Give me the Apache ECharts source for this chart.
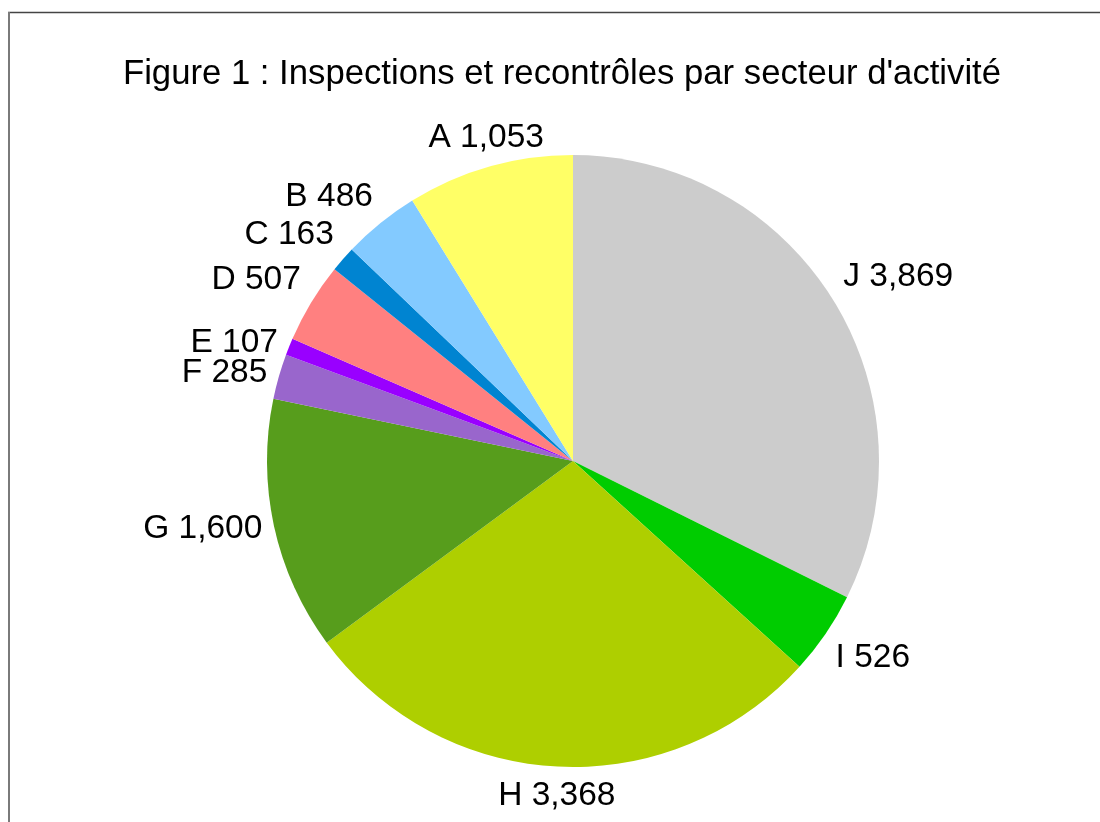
<!DOCTYPE html>
<html lang="fr">
<head>
    <meta charset="utf-8">
    <title>Figure 1</title>
    <script type="text/javascript" src="https://cdn.jsdelivr.net/npm/echarts@6/dist/echarts.min.js"></script>
    <style>
        body { margin: 0; background: #fff; }
        #chartMain { width: 1100px; height: 822px; }
    </style>
</head>
<body>
    <div id="chartMain"></div>
    <script type="text/javascript">
        // secteurs, dans l'ordre du tracé (sens horaire depuis midi)
        var secteurs = ['J', 'I', 'H', 'G', 'F', 'E', 'D', 'C', 'B', 'A'];
        var valeurs = [3869, 526, 3368, 1600, 285, 107, 507, 163, 486, 1053];
        var couleurs = ['#cccccc', '#00cc00', '#aecf00', '#579d1c', '#9966cc',
                        '#9900ff', '#ff8080', '#0084d1', '#83caff', '#ffff66'];

        var data = [];
        for (var i = 0; i < secteurs.length; i++) {
            data.push({ name: secteurs[i], value: valeurs[i], itemStyle: { color: couleurs[i] } });
        }

        var chart = echarts.init(document.getElementById('chartMain'));
        chart.setOption({
            animation: false,
            textStyle: { fontFamily: 'Liberation Sans' },
            title: {
                text: "Figure 1 : Inspections et recontrôles par secteur d'activité",
                left: 557,
                top: 52,
                textAlign: 'center',
                textStyle: { fontFamily: 'Liberation Sans', fontSize: 34.7, fontWeight: 'normal', color: '#000' }
            },
            // cadre : seulement le bord haut et le bord gauche sont visibles
            graphic: [{
                type: 'line',
                shape: { x1: 8, y1: 12.5, x2: 1100, y2: 12.5 },
                style: { stroke: '#444444', lineWidth: 1.5 },
                silent: true
            }, {
                type: 'line',
                shape: { x1: 9, y1: 12, x2: 9, y2: 822 },
                style: { stroke: '#7a7a7a', lineWidth: 2 },
                silent: true
            }],
            series: [{
                type: 'pie',
                center: [573, 461],
                radius: 306,
                startAngle: 90,
                clockwise: true,
                avoidLabelOverlap: false,
                data: data,
                label: {
                    show: true,
                    position: 'outside',
                    fontFamily: 'Liberation Sans',
                    fontSize: 33.5,
                    color: '#000',
                    formatter: function (p) {
                        return p.name + ' ' + p.value.toLocaleString('en-US');
                    }
                },
                labelLine: {
                    show: true,
                    length: 12,
                    length2: 0,
                    lineStyle: { opacity: 0 }
                },
                labelLayout: function (p) {
                    var pts = p.labelLinePoints;
                    if (!pts) return {};
                    var dx = pts[1][0] - pts[0][0];
                    var dy = pts[1][1] - pts[0][1];
                    var ang = Math.atan2(Math.abs(dy), Math.abs(dx)) * 180 / Math.PI;
                    return {
                        x: pts[1][0],
                        y: pts[1][1],
                        align: ang > 67.5 ? 'center' : (dx > 0 ? 'left' : 'right'),
                        verticalAlign: ang < 22.5 ? 'middle' : (dy > 0 ? 'top' : 'bottom')
                    };
                },
                emphasis: { disabled: true }
            }]
        });
    </script>
</body>
</html>
